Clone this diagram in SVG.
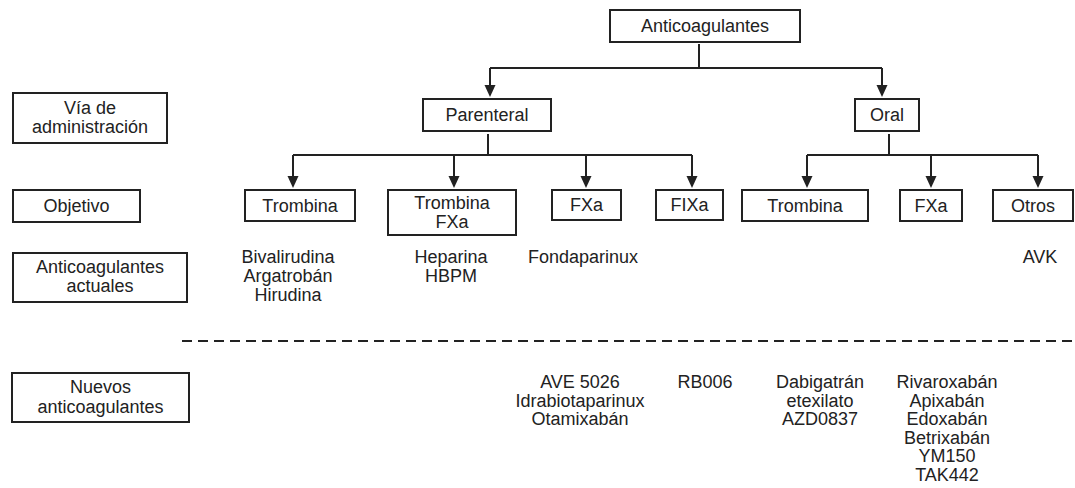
<svg xmlns="http://www.w3.org/2000/svg" width="1075" height="488" viewBox="0 0 1075 488">
<style>
  .box{fill:#fff;stroke:#222;stroke-width:2}
  text{font-family:"Liberation Sans",Arial,Helvetica,sans-serif;font-size:18px;fill:#222;text-anchor:middle}
  .ln{fill:none;stroke:#222;stroke-width:2}
  .arr{fill:none;stroke:#222;stroke-width:2;marker-end:url(#ah)}
  .dash{fill:none;stroke:#222;stroke-width:2;stroke-dasharray:10 6}
</style>
<defs>
  <marker id="ah" viewBox="0 0 12 12" refX="10" refY="6" markerWidth="12" markerHeight="12" markerUnits="userSpaceOnUse" orient="auto">
    <path d="M0,0.5 L12,6 L0,11.5 z" fill="#222"/>
  </marker>
</defs>
<rect width="1075" height="488" fill="#fff"/>

<g id="connectors">
  <path class="ln" d="M699,44 V68 M490,68 H882"/>
  <path class="arr" d="M490,68 V95"/>
  <path class="arr" d="M882,68 V95"/>
  <path class="ln" d="M488,134 V155 M293,155 H692"/>
  <path class="arr" d="M293,155 V186"/>
  <path class="arr" d="M454,155 V186"/>
  <path class="arr" d="M586,155 V186"/>
  <path class="arr" d="M692,155 V186"/>
  <path class="ln" d="M889,134 V155 M807,155 H1038"/>
  <path class="arr" d="M807,155 V186"/>
  <path class="arr" d="M931,155 V186"/>
  <path class="arr" d="M1038,155 V186"/>
  <path class="dash" d="M182,341 H1075"/>
</g>

<g id="label-via"><rect class="box" x="13" y="93" width="154" height="50"/><text x="90" y="114">Vía de</text><text x="90" y="133">administración</text></g>
<g id="label-objetivo"><rect class="box" x="13" y="190" width="127" height="32"/><text x="76.5" y="212">Objetivo</text></g>
<g id="label-actuales"><rect class="box" x="13" y="253" width="174" height="49"/><text x="100" y="273">Anticoagulantes</text><text x="100" y="292">actuales</text></g>
<g id="label-nuevos"><rect class="box" x="12" y="373" width="177" height="49"/><text x="100.5" y="393">Nuevos</text><text x="100.5" y="413">anticoagulantes</text></g>

<g id="n-root"><rect class="box" x="610" y="10" width="190" height="32"/><text x="705" y="32">Anticoagulantes</text></g>
<g id="n-parenteral"><rect class="box" x="423" y="99" width="128" height="32"/><text x="487" y="121">Parenteral</text></g>
<g id="n-oral"><rect class="box" x="855" y="99" width="64" height="32"/><text x="887" y="121">Oral</text></g>

<g id="n-p-trombina"><rect class="box" x="245" y="190" width="110" height="31"/><text x="300" y="212">Trombina</text></g>
<g id="n-p-trombina-fxa"><rect class="box" x="388" y="190" width="128" height="45"/><text x="452" y="209">Trombina</text><text x="452" y="228">FXa</text></g>
<g id="n-p-fxa"><rect class="box" x="552" y="190" width="69" height="30"/><text x="586.5" y="211">FXa</text></g>
<g id="n-p-fixa"><rect class="box" x="656" y="190" width="67" height="30"/><text x="689.5" y="211">FIXa</text></g>
<g id="n-o-trombina"><rect class="box" x="742" y="190" width="126" height="31"/><text x="805" y="212">Trombina</text></g>
<g id="n-o-fxa"><rect class="box" x="900" y="190" width="62" height="31"/><text x="931" y="212">FXa</text></g>
<g id="n-o-otros"><rect class="box" x="993" y="190" width="80" height="31"/><text x="1033" y="212">Otros</text></g>

<g id="actuales-texts">
  <text x="288" y="263">Bivalirudina</text><text x="288" y="282">Argatrobán</text><text x="288" y="301">Hirudina</text>
  <text x="451" y="263">Heparina</text><text x="451" y="282">HBPM</text>
  <text x="583" y="263">Fondaparinux</text>
  <text x="1040" y="263">AVK</text>
</g>
<g id="nuevos-texts">
  <text x="580" y="388">AVE 5026</text><text x="580" y="406.5">Idrabiotaparinux</text><text x="580" y="425">Otamixabán</text>
  <text x="705" y="388">RB006</text>
  <text x="820" y="388">Dabigatrán</text><text x="820" y="406.5">etexilato</text><text x="820" y="425">AZD0837</text>
  <text x="947" y="388">Rivaroxabán</text><text x="947" y="406.5">Apixabán</text><text x="947" y="425">Edoxabán</text><text x="947" y="443.5">Betrixabán</text><text x="947" y="462">YM150</text><text x="947" y="480.5">TAK442</text>
</g>
</svg>
